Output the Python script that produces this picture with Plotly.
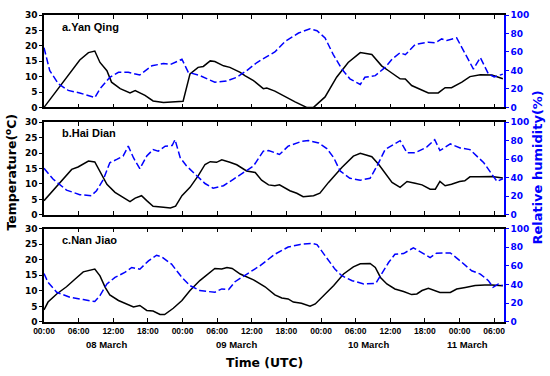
import plotly.graph_objects as go

# ---------------- data (hours since 08 March 00:00 UTC) ----------------
tick_hours = [0, 6, 12, 18, 24, 30, 36, 42, 48, 54, 60, 66, 72, 78]
tick_labels = ["00:00", "06:00", "12:00", "18:00", "00:00", "06:00", "12:00",
               "18:00", "00:00", "06:00", "12:00", "18:00", "00:00", "06:00"]
date_labels = ["08 March", "09 March", "10 March", "11 March"]
date_hours = [10.8, 33.4, 56.3, 73.3]
station_names = ["a.Yan Qing", "b.Hai Dian", "c.Nan Jiao"]

yq_t_h = [0, 2, 4.2, 5.2, 6.2, 7.7, 8.8, 9.7, 10.9, 11.7, 13.2, 14.9, 15.8, 17.5, 18.9, 20.7, 23.6, 24.1,
          25.3, 26.7, 27.6, 28.8, 29.6, 31.1, 32.2, 34, 34.8, 36.3, 38, 38.6, 40, 41.8, 43.5, 45.5, 46.7,
          48.7, 50.7, 52.7, 54.8, 56.8, 58.5, 59.7, 61.7, 62.6, 63.7, 66.6, 68.3, 69.5, 70.6, 72.4, 73.8,
          75.6, 77.6, 79.5]
yq_t = [0, 5, 10.3, 13, 15.4, 17.8, 18.3, 14.6, 11.9, 8.2, 6.1, 4.7, 5.5, 3.9, 2.1, 1.6, 2.0, 2.0,
        10.9, 13, 13.3, 15.1, 14.9, 13.5, 13, 11.4, 10.3, 8.7, 6.1, 6.3, 5.3, 3.4, 1.8, 0, 0,
        3.4, 9.8, 14.6, 17.8, 17.2, 13.5, 11.9, 9.3, 9.2, 7.1, 4.7, 4.7, 6.4, 6.4, 8.2, 10,
        10.6, 10.5, 9.3]
yq_rh_h = [0, 1, 2.5, 4.2, 6.2, 8.8, 9.7, 11.4, 12.9, 14.6, 16.6, 18.7, 20.7, 21.9, 23.9, 25, 27, 29.6,
           31.6, 33.4, 35.1, 36.9, 38.6, 40, 41.8, 44.1, 46.1, 47.3, 48.7, 50.1, 51.6, 53, 54.8, 55.6,
           57.4, 59.1, 60.3, 61.7, 62.6, 64.3, 66.6, 67.8, 68.9, 69.8, 71.5, 73, 74.4, 75.6, 77, 78, 79.5]
yq_rh = [64.6, 39.7, 25.5, 18.4, 15.6, 10.6, 20.2, 32.6, 38, 38, 35.1, 45, 47.5, 46.5, 52.1, 38, 34.4, 27.3,
         28.5, 32.6, 39.7, 48.6, 55, 60, 71.6, 80.5, 85.1, 83, 75.2, 57.4, 41.5, 30.9, 24.8, 32.6,
         34.4, 43.3, 52.1, 59.2, 57, 68.1, 70.6, 70, 74.1, 72.4, 75.2, 57.4, 41.5, 53.9, 36.2, 33, 36]

hd_t_h = [0, 2.2, 4.8, 5.9, 7.7, 8.8, 10, 10.9, 12.3, 13.5, 14.9, 15.8, 16.9, 17.8, 18.9, 20.7, 21.9, 22.8,
          23.9, 25.3, 26.7, 27.9, 28.8, 29.9, 30.8, 32.2, 33.4, 35.1, 36.6, 37.7, 38.9, 40, 40.8, 42.6,
          43.8, 44.9, 46.7, 47.8, 49.3, 51.6, 53.6, 54.8, 56.8, 58, 59.4, 60.3, 61.7, 62.9, 64.3, 65.5,
          66.9, 67.8, 68.6, 69.5, 70.6, 72, 72.9, 73.8, 75.3, 77.6, 79.5]
hd_t = [4.6, 9.4, 14.7, 15.5, 17.4, 17.1, 13.1, 9.9, 7.3, 5.9, 4.3, 5.4, 6.2, 4.6, 2.8, 2.5, 2.2, 2.8,
        6.2, 8.9, 12.6, 16.3, 17.2, 17.0, 17.8, 17.0, 16.2, 14.2, 13.7, 11.2, 9.7, 9.4, 9.7, 7.8,
        7.0, 5.9, 6.2, 7.0, 10.5, 15.3, 19, 19.9, 18.8, 16.3, 12.6, 10.5, 8.9, 10.8, 10.2, 9.7,
        8.3, 8.3, 10.8, 9.4, 9.9, 10.8, 11.0, 12.3, 12.3, 12.4, 11.9]
hd_rh_h = [0, 1.6, 3.9, 6.2, 8.2, 9.1, 10.3, 11.4, 12.6, 13.7, 14.6, 15.5, 16.6, 17.8, 18.9, 19.8, 21, 22.2,
           22.7, 23.6, 24.7, 26.5, 27.9, 29.3, 31.1, 32.8, 34.5, 36.3, 38, 38.9, 40, 40.8, 42.3, 44.7,
           45.8, 47.6, 49, 50.2, 51.3, 53, 54.8, 56.5, 57.7, 59.1, 61.7, 62.9, 64.3, 66.3, 67.7, 68.6,
           70.4, 72.1, 73.8, 75, 76.2, 77.6, 78.5, 79.5]
hd_rh = [50.2, 38.4, 26.7, 21.8, 20.7, 26, 38.4, 56.2, 59.8, 63.4, 74.1, 61.6, 49.8, 63.4, 70.4, 68.7, 74.1, 74.8,
         81.1, 61.6, 52.7, 42, 33.8, 28.8, 31.4, 38.4, 45.6, 52.7, 68.7, 69.4, 67, 65.1, 74.1, 79.4,
         80.1, 77.6, 71.5, 61.6, 47.4, 39.5, 37.4, 39.5, 52.7, 70.4, 80, 66.9, 66.9, 73, 81.1, 69.4,
         76.5, 72.2, 70.4, 63.4, 56.2, 43.8, 36, 39]

nj_t_h = [0, 0.7, 2.2, 3.9, 5.4, 6.8, 8.8, 9.7, 10.6, 11.4, 12.9, 14, 15.5, 16.6, 17.8, 18.9, 20.1, 20.9,
          22.4, 23.9, 25.3, 27, 28.5, 29.6, 30.8, 31.7, 32.6, 34, 36.3, 38.3, 40, 41.2, 42.3, 43.2, 44.6,
          46.1, 47, 48.4, 50.2, 51.9, 53.6, 54.8, 56.5, 57.4, 58.3, 59.4, 60.8, 62.3, 63.7, 64.6, 65.5,
          66.6, 67.5, 68.6, 70.4, 71.5, 73, 74.7, 76.4, 77.6, 79.5]
nj_t = [3.9, 6.4, 9, 11.3, 13.8, 16.1, 17, 14.8, 11.1, 8.7, 6.9, 6, 4.8, 5.3, 3.7, 3.5, 2.4, 2.4,
        4.4, 6.9, 10.1, 13.3, 15.4, 17.2, 17.0, 17.5, 17.2, 15.4, 13.5, 11.3, 8.7, 7.7, 7.4, 6.4, 6.0,
        5.1, 5.8, 8.5, 11.7, 15.4, 17.7, 18.7, 18.8, 17.5, 14.3, 12.2, 10.6, 9.8, 8.8, 9.0, 10.1,
        10.8, 10.1, 9.5, 9.5, 10.6, 11.1, 11.7, 11.9, 11.9, 11.6]
nj_rh_h = [0, 0.7, 2.2, 4.5, 6.8, 8.8, 9.7, 10.9, 12.3, 14, 15.2, 16.6, 18.1, 19.5, 20.4, 22.1, 23.9, 25.3,
           27, 29.6, 30.8, 32, 33.1, 35.1, 37.4, 40, 42.3, 44.4, 46.4, 47.3, 48.7, 50.4, 51.6, 53.4,
           55.4, 57.5, 58.3, 59.7, 60.8, 62.3, 64, 65.5, 66.9, 68, 70.4, 72.1, 74.1, 75.6, 77, 77.8,
           78.7, 79.5]
nj_rh = [51.9, 42.4, 31.8, 26.5, 24, 21.9, 28.3, 40.7, 47.7, 53, 58.3, 56.5, 65.4, 71.4, 69.6, 61.9, 47.7, 38.9,
         33.6, 31.8, 35.4, 34.7, 43.1, 51.3, 60.1, 72.5, 80.2, 83, 84.1, 82.8, 70.7, 56.6, 49.5, 44.2,
         40.7, 41.4, 49.5, 63.6, 72.5, 73.2, 79.4, 74.2, 68.9, 73.6, 73.9, 65.4, 54.8, 51.3, 44.2, 37.1,
         40.6, 39]

# ---------------- figure ----------------
BLUE = "#0000FF"
fig = go.Figure()

panels = [
    (yq_t_h, yq_t, yq_rh_h, yq_rh),
    (hd_t_h, hd_t, hd_rh_h, hd_rh),
    (nj_t_h, nj_t, nj_rh_h, nj_rh),
]
domains = [[0.699, 1.0], [0.349, 0.651], [0.0, 0.3045]]
label_y = [0.9615, 0.615, 0.266]

tick_font_y = dict(family="DejaVu Sans", size=9, color="black", weight="bold")
tick_font_x = dict(family="Liberation Sans", size=8.5, color="black", weight="bold")

for i, (th, tv, rh_h, rh) in enumerate(panels):
    xn = "x" if i == 0 else f"x{i+1}"
    yt = "y" if i == 0 else f"y{2*i+1}"
    yr = f"y{2*i+2}"
    fig.add_trace(go.Scatter(x=th, y=tv, mode="lines", xaxis=xn, yaxis=yt,
                             line=dict(color="black", width=1.5), showlegend=False))
    fig.add_trace(go.Scatter(x=rh_h, y=rh, mode="lines", xaxis=xn, yaxis=yr,
                             line=dict(color=BLUE, width=1.5, dash="7px,3px"), showlegend=False))

    xkey = "xaxis" if i == 0 else f"xaxis{i+1}"
    ytkey = "yaxis" if i == 0 else f"yaxis{2*i+1}"
    yrkey = f"yaxis{2*i+2}"
    fig.update_layout(**{
        xkey: dict(domain=[0, 1], anchor=yt, range=[0, 79.7], tickmode="array",
                   tickvals=tick_hours, ticktext=tick_labels, showticklabels=(i == 2),
                   ticks="inside", ticklen=4, tickwidth=1.2, tickcolor="black",
                   mirror="ticks", showline=True, linecolor="black", linewidth=1.5,
                   showgrid=False, zeroline=False, tickfont=tick_font_x),
        ytkey: dict(domain=domains[i], anchor=xn, range=[0, 30], dtick=5,
                    ticks="outside", ticklen=3, tickcolor="black", showline=True,
                    linecolor="black", linewidth=1.5, showgrid=False, zeroline=False,
                    tickfont=tick_font_y),
        yrkey: dict(overlaying=yt, anchor=xn, side="right", range=[0, 100], dtick=20,
                    ticks="outside", ticklen=3, tickcolor=BLUE, showline=True,
                    linecolor=BLUE, linewidth=1.5, showgrid=False, zeroline=False,
                    tickfont=dict(family="DejaVu Sans", size=9, color=BLUE, weight="bold")),
    })
    fig.add_annotation(text=station_names[i], xref="paper", yref="paper", x=0.035,
                       y=label_y[i], xanchor="left", yanchor="middle", showarrow=False,
                       font=dict(family="Liberation Sans", size=11, color="black", weight="bold"))

for lbl, h in zip(date_labels, date_hours):
    fig.add_annotation(text=lbl, xref="x3", yref="paper", x=h, y=-0.0737,
                       xanchor="center", yanchor="middle", showarrow=False,
                       font=dict(family="Liberation Sans", size=9.5, color="black", weight="bold"))

fig.add_annotation(text="Temperature(<sup>o</sup>C)", xref="paper", yref="paper", x=-0.0717, y=0.487,
                   textangle=-90, xanchor="center", yanchor="middle", showarrow=False,
                   font=dict(family="DejaVu Sans", size=12.5, color="black", weight="bold"))
fig.add_annotation(text="Relative humidity(%)", xref="paper", yref="paper", x=1.074, y=0.503,
                   textangle=-90, xanchor="center", yanchor="middle", showarrow=False,
                   font=dict(family="DejaVu Sans", size=13, color=BLUE, weight="bold"))
fig.add_annotation(text="Time (UTC)", xref="paper", yref="paper", x=0.48, y=-0.131,
                   xanchor="center", yanchor="middle", showarrow=False,
                   font=dict(family="DejaVu Sans", size=12.4, color="black", weight="bold"))

fig.update_layout(width=550, height=376, margin=dict(l=44, r=46, t=10, b=54),
                  paper_bgcolor="white", plot_bgcolor="white", showlegend=False)

fig.write_html("out.html", config={"displayModeBar": False},
               post_script="document.body.style.margin='0';document.body.style.padding='0';")
